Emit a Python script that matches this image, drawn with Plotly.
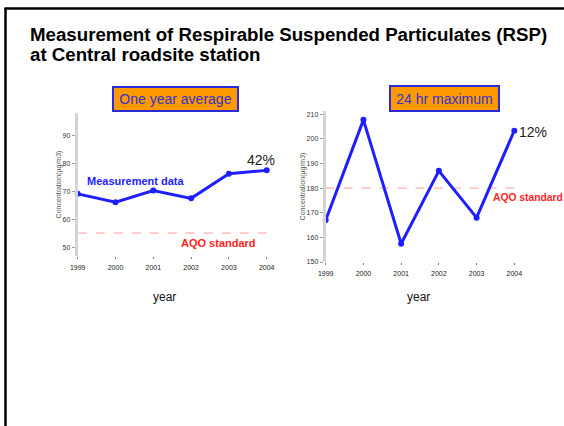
import plotly.graph_objects as go

W, H = 564, 426

years = [1999, 2000, 2001, 2002, 2003, 2004]
year_labels = ["1999", "2000", "2001", "2002", "2003", "2004"]
annual_avg = [69.0, 66.0, 70.2, 67.4, 76.2, 77.4]
max_24hr = [167.0, 207.7, 157.4, 187.0, 168.0, 203.3]
aqo_annual = [55, 55]
aqo_24hr = [180, 180]
aqo_x = [1999, 2004]
left_ticks = [50, 60, 70, 80, 90]
right_ticks = [150, 160, 170, 180, 190, 200, 210]

def px(x):
    return x / W

def py(y):
    return 1 - y / H

BLUE = "#1e1eff"
RED = "#ff1f1f"
FONT = "Liberation Sans, Arial, sans-serif"

fig = go.Figure()

# left chart
fig.add_trace(go.Scatter(x=aqo_x, y=aqo_annual, mode="lines", xaxis="x", yaxis="y",
                         line=dict(color="#ff9a9a", width=1, dash="dash"), hoverinfo="skip", cliponaxis=False))
fig.add_trace(go.Scatter(x=years, y=annual_avg, mode="lines+markers", xaxis="x", yaxis="y",
                         line=dict(color=BLUE, width=3), marker=dict(color=BLUE, size=6), cliponaxis=False))
# right chart
fig.add_trace(go.Scatter(x=aqo_x, y=aqo_24hr, mode="lines", xaxis="x2", yaxis="y2",
                         line=dict(color="#ff9a9a", width=1, dash="dash"), hoverinfo="skip", cliponaxis=False))
fig.add_trace(go.Scatter(x=years, y=max_24hr, mode="lines+markers", xaxis="x2", yaxis="y2",
                         line=dict(color=BLUE, width=3), marker=dict(color=BLUE, size=6), cliponaxis=False))

xcommon = dict(range=[1999, 2004], tickvals=years, ticktext=year_labels, showgrid=False, zeroline=False,
               showline=False, ticks="outside", ticklen=2, tickcolor="#777", tickwidth=1, automargin=False,
               ticklabelstandoff=3,
               tickfont=dict(size=7, color="#222", family=FONT))
ycommon = dict(showgrid=False, zeroline=False, showline=True, linecolor="#d4d4d4", linewidth=3,
               ticks="outside", ticklen=3, tickcolor="#999", tickwidth=1, automargin=False,
               tickfont=dict(size=7, color="#333", family=FONT),
               title=dict(text="Concentration(μg/m3)", font=dict(size=7, color="#555", family=FONT), standoff=1))

fig.update_layout(
    width=W, height=H, autosize=False, margin=dict(l=0, r=0, t=0, b=0, pad=0, autoexpand=False),
    paper_bgcolor="white", plot_bgcolor="white", showlegend=False,
    xaxis=dict(domain=[px(77.7), px(266.7)], anchor="y", **xcommon),
    yaxis=dict(domain=[py(256), py(113)], anchor="x", range=[46.8, 97.9], tickvals=left_ticks, **ycommon),
    xaxis2=dict(domain=[px(325.7), px(514.3)], anchor="y2", **xcommon),
    yaxis2=dict(domain=[py(262), py(111)], anchor="x2", range=[150, 211.3], tickvals=right_ticks, **ycommon),
)

ann = []
# Title
ann.append(dict(text="<b>Measurement of Respirable Suspended Particulates (RSP)</b>", x=px(28), y=py(35),
                xref="paper", yref="paper", xanchor="left", yanchor="middle", showarrow=False,
                font=dict(size=18.7, color="black", family=FONT)))
ann.append(dict(text="<b>at Central roadsite station</b>", x=px(28), y=py(55),
                xref="paper", yref="paper", xanchor="left", yanchor="middle", showarrow=False,
                font=dict(size=18.7, color="black", family=FONT)))
# Boxes
ann.append(dict(text="One year average", x=px(175.3), y=py(98.8), xref="paper", yref="paper",
                xanchor="center", yanchor="middle", showarrow=False, bgcolor="#ff9900",
                bordercolor="#2a2ad8", borderwidth=2, borderpad=3, width=117, height=16,
                font=dict(size=14, color="#3333cc", family=FONT)))
ann.append(dict(text="24 hr maximum", x=px(444.5), y=py(98.5), xref="paper", yref="paper",
                xanchor="center", yanchor="middle", showarrow=False, bgcolor="#ff9900",
                bordercolor="#2a2ad8", borderwidth=2, borderpad=3, width=101, height=17,
                font=dict(size=14, color="#3333cc", family=FONT)))
# labels
ann.append(dict(text="<b>Measurement data</b>", x=px(85), y=py(181), xref="paper", yref="paper",
                xanchor="left", yanchor="middle", showarrow=False, font=dict(size=11, color=BLUE, family=FONT)))
ann.append(dict(text="<b>AQO standard</b>", x=px(179), y=py(243), xref="paper", yref="paper",
                xanchor="left", yanchor="middle", showarrow=False, font=dict(size=11, color=RED, family=FONT)))
ann.append(dict(text="<b>AQO standard</b>", x=px(491), y=py(197), xref="paper", yref="paper",
                xanchor="left", yanchor="middle", showarrow=False, font=dict(size=10.3, color=RED, family=FONT)))
ann.append(dict(text="42%", x=px(245), y=py(160), xref="paper", yref="paper",
                xanchor="left", yanchor="middle", showarrow=False, font=dict(size=14, color="#222", family=FONT)))
ann.append(dict(text="12%", x=px(517), y=py(132), xref="paper", yref="paper",
                xanchor="left", yanchor="middle", showarrow=False, font=dict(size=14, color="#222", family=FONT)))
ann.append(dict(text="year", x=px(164.7), y=py(297), xref="paper", yref="paper",
                xanchor="center", yanchor="middle", showarrow=False, font=dict(size=12, color="#111", family=FONT)))
ann.append(dict(text="year", x=px(418.3), y=py(297), xref="paper", yref="paper",
                xanchor="center", yanchor="middle", showarrow=False, font=dict(size=12, color="#111", family=FONT)))
fig.update_layout(annotations=ann)

# slide frame (left and top edges)
fig.add_shape(type="line", xref="paper", yref="paper", x0=px(5.5), x1=px(5.5), y0=py(8), y1=0,
              line=dict(color="black", width=2.5))
fig.add_shape(type="line", xref="paper", yref="paper", x0=px(4.5), x1=1, y0=py(8.5), y1=py(8.5),
              line=dict(color="black", width=2.5))

fig.write_html(
    "out.html",
    config={"responsive": False, "displayModeBar": False, "staticPlot": True},
    post_script=(
        "document.documentElement.style.margin='0';document.body.style.margin='0';"
        "document.body.style.padding='0';"
        "document.documentElement.style.overflow='hidden';document.body.style.overflow='hidden';"
        "var d=document.getElementById('{plot_id}');"
        "d.style.position='fixed';d.style.left='0px';d.style.top='0px';"
    ),
)
